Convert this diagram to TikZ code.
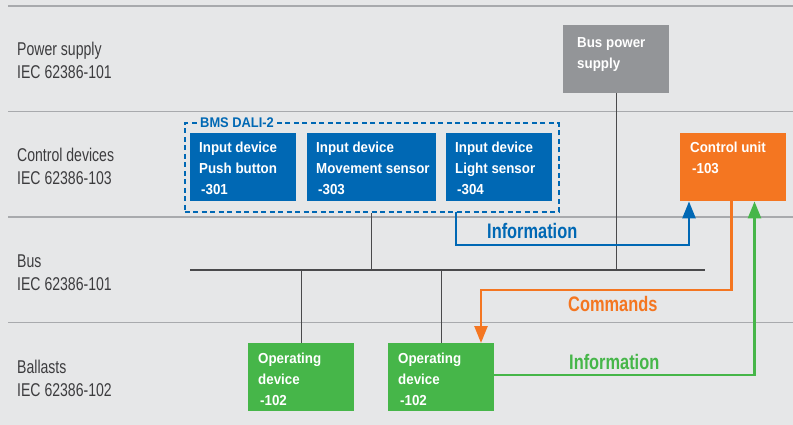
\documentclass[tikz,border=0pt]{standalone}
\usepackage{fontspec}
\usetikzlibrary{arrows.meta,calc}
\newfontfamily\lblfont[FakeStretch=0.76]{Liberation Sans}
\newfontfamily\bxfont[FakeStretch=0.92]{Liberation Sans}
\newfontfamily\arfont[FakeStretch=0.78]{Liberation Sans}
\definecolor{bg}{HTML}{E6E7E8}
\definecolor{sepc}{HTML}{A8AAAD}
\definecolor{dark}{HTML}{4A4A4C}
\definecolor{dblue}{HTML}{0068B4}
\definecolor{dorange}{HTML}{F47621}
\definecolor{dgreen}{HTML}{46B649}
\definecolor{dgrey}{HTML}{939598}
\definecolor{lbltext}{HTML}{3C3C3E}
\newcommand\bxtxt[5]{\parbox[t][#2pt][t]{#1pt}{\bxfont\bfseries\fontsize{14.5}{21}\selectfont\raggedright\leftskip=#3pt\rule{0pt}{#4pt}#5}}
\newcommand\lbltxt[1]{\parbox[t]{160pt}{\lblfont\fontsize{18.5}{23}\selectfont\raggedright#1}}
\tikzset{
  boxn/.style={inner sep=0pt, anchor=north west, text=white},
  lbl/.style={inner sep=0pt, anchor=base west, text=lbltext},
  arlbl/.style={inner sep=0pt, anchor=base west, font=\arfont\bfseries\fontsize{21}{24}\selectfont},
  sepline/.style={draw=sepc, line width=1.3pt},
  wire/.style={draw=dark, line width=1.3pt},
  buswire/.style={draw=dark, line width=2pt},
  flow/.style={line width=2.5pt, -{Triangle[length=17pt,width=13pt]}},
}
\begin{document}
\begin{tikzpicture}[x=1pt,y=-1pt]
\useasboundingbox (0,0) rectangle (793,425);
\fill[bg] (0,0) rectangle (793,425);
% separators
\draw[sepline] (8,6) -- (793,6);
\draw[sepline] (8,111.5) -- (793,111.5);
\draw[sepline] (8,217) -- (793,217);
\draw[sepline] (8,322.5) -- (793,322.5);
% left labels
\node[lbl] (l1) at (17,56) {\lbltxt{Power supply\\IEC 62386-101}};
\node[lbl] (l2) at (17,162) {\lbltxt{Control devices\\IEC 62386-103}};
\node[lbl] (l3) at (17,267) {\lbltxt{Bus\\IEC 62386-101}};
\node[lbl] (l4) at (17,373) {\lbltxt{Ballasts\\IEC 62386-102}};
% dashed group
\node[boxn, draw=dblue, line width=2pt, dash pattern=on 5pt off 3.5pt, minimum width=374pt, minimum height=88.5pt] (dali) at (183.5,122.5) {};
\node[inner xsep=3pt, inner ysep=2pt, anchor=base west, fill=bg, text=dblue, font=\bxfont\bfseries\fontsize{14}{16}\selectfont] (dalilbl) at (197,127.5) {BMS DALI-2};
% boxes
\node[boxn, fill=dgrey] (psu) at (563,25) {\bxtxt{106}{68}{14}{22}{Bus power\\supply}};
\node[boxn, fill=dblue] (b1) at (190,133) {\bxtxt{106}{68}{9}{19}{Input device\\Push button\\\hspace*{2pt}-301}};
\node[boxn, fill=dblue] (b2) at (307,133) {\bxtxt{129}{68}{9}{19}{Input device\\Movement sensor\\\hspace*{2pt}-303}};
\node[boxn, fill=dblue] (b3) at (446,133) {\bxtxt{106}{68}{9}{19}{Input device\\Light sensor\\\hspace*{2pt}-304}};
\node[boxn, fill=dorange] (ctrl) at (680,133) {\bxtxt{106}{68}{10}{19}{Control unit\\\hspace*{2pt}-103}};
\node[boxn, fill=dgreen] (g1) at (248,343) {\bxtxt{106}{68}{10}{20}{Operating\\device\\\hspace*{2pt}-102}};
\node[boxn, fill=dgreen] (g2) at (388,343) {\bxtxt{106}{68}{10}{20}{Operating\\device\\\hspace*{2pt}-102}};
% bus
\coordinate (busL) at (190,270);
\coordinate (busR) at (705,270);
\coordinate (infoS) at (456,211.5);
\draw[buswire] (busL) -- (busR);
\draw[wire] (b2.south |- dali.south) -- (b2.south |- busL);
\draw[wire] (psu.south) -- (psu.south |- busL);
\draw[wire] ($(ctrl.south west)+(24,0)$) -- ($(ctrl.south west)+(24,0)$ |- busR);
\draw[wire] (g1.north) -- (g1.north |- busL);
\draw[wire] (g2.north) -- (g2.north |- busL);
% flows
\draw[flow, draw=dblue] (infoS) |- (689,245) -- ($(ctrl.south west)+(9,0)$);
\draw[flow, draw=dorange] ($(ctrl.south west)+(51.5,0)$) |- (481,290) -- ($(g2.north west)+(93,0)$);
\draw[flow, draw=dgreen] ($(g2.north east)+(0,32)$) -| ($(ctrl.south west)+(74.5,0)$);
% flow labels
\node[arlbl, text=dblue] (infoB) at (487,238.5) {Information};
\node[arlbl, text=dorange] (cmd) at (568,311) {Commands};
\node[arlbl, text=dgreen] (infoG) at (569,369.5) {Information};
\end{tikzpicture}
\end{document}
